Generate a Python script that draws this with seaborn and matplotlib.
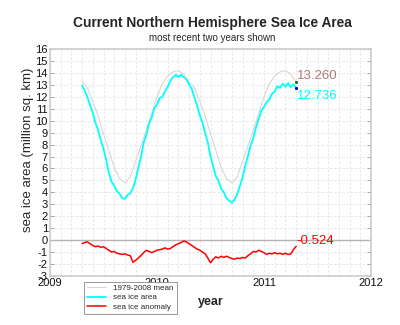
import numpy as np
import pandas as pd
import matplotlib
matplotlib.use("Agg")
import matplotlib.pyplot as plt
import seaborn as sns
from matplotlib.ticker import MultipleLocator

# ---- data ----
t_start = 2009.30
mean_step = 0.05
mean_vals = [13.26, 12.75, 11.6, 10.4, 8.9, 7.5, 6.1, 5.15, 4.78, 5.3,
             6.6, 7.9, 9.2, 10.6, 12.0, 13.1, 13.75, 14.1, 14.2, 13.9,
             13.26, 12.75, 11.6, 10.4, 8.9, 7.5, 6.1, 5.15, 4.78, 5.3,
             6.6, 7.9, 9.2, 10.6, 12.0, 13.1, 13.75, 14.1, 14.2, 13.9,
             13.26]
obs_step = 0.025
area_vals = [12.95, 12.5, 11.95, 11.3, 10.65, 9.8, 9.2, 8.35, 7.65, 6.7,
             5.65, 4.9, 4.55, 4.1, 3.9, 3.5, 3.45, 3.8, 3.9, 4.35,
             5.05, 6.05, 6.95, 8.15, 8.8, 9.75, 10.25, 11.05, 11.35, 11.9,
             12.0, 12.45, 12.85, 13.35, 13.65, 13.85, 13.65, 13.85, 13.65, 13.45,
             13.05, 12.65, 11.95, 11.25, 10.45, 9.85, 8.95, 8.15, 7.05, 6.15,
             5.35, 4.95, 4.3, 4.0, 3.5, 3.3, 3.12, 3.4, 3.85, 4.55,
             5.25, 6.25, 7.05, 7.95, 8.55, 9.45, 10.15, 10.85, 11.15, 11.55,
             11.8, 12.25, 12.45, 12.9, 12.75, 13.1, 12.85, 13.15, 12.8, 13.05,
             12.736]
anom_vals = [-0.3, -0.2, -0.15, -0.3, -0.45, -0.55, -0.5, -0.6, -0.55, -0.7,
             -0.85, -1.0, -0.95, -1.1, -1.15, -1.2, -1.15, -1.25, -1.3, -1.85,
             -1.7, -1.5, -1.3, -1.05, -0.85, -0.95, -1.05, -0.95, -0.85, -0.8,
             -0.75, -0.65, -0.75, -0.7, -0.55, -0.4, -0.3, -0.2, -0.08, -0.15,
             -0.3, -0.45, -0.6, -0.75, -0.85, -1.0, -1.15, -1.5, -1.9, -1.6,
             -1.4, -1.5, -1.35, -1.45, -1.35, -1.45, -1.55, -1.6, -1.5, -1.55,
             -1.45, -1.5, -1.3, -1.15, -0.95, -1.0, -0.85, -0.95, -1.05, -1.2,
             -1.1, -1.15, -1.05, -1.15, -1.1, -1.2, -1.1, -1.2, -1.15, -0.8,
             -0.524]
last_mean = "13.260"
last_area = "12.736"
last_anom = "-0.524"
x_ticks = [2009, 2010, 2011, 2012]
y_ticks = list(range(-3, 17))
legend_labels = ["1979-2008 mean", "sea ice area", "sea ice anomaly"]

mean_t = [round(t_start + i * mean_step, 3) for i in range(len(mean_vals))]
obs_t = [round(t_start + i * obs_step, 3) for i in range(len(area_vals))]
df_mean = pd.DataFrame({"year": mean_t, "value": mean_vals})
df_area = pd.DataFrame({"year": obs_t, "value": area_vals})
df_anom = pd.DataFrame({"year": obs_t, "value": anom_vals})

# ---- style ----
sns.set_style("white")
plt.rcParams["font.family"] = ["Liberation Sans", "DejaVu Sans"]

fig = plt.figure(figsize=(4.0, 3.25), dpi=100)
ax = fig.add_axes([0.125, 0.151, 0.8025, 0.698])

c_mean = "#dccfcf"
c_area = "#00ffff"
c_anom = "#ff0000"
c_meanlbl = "#a97a76"

ax.axhline(0, color="#b4b4b4", lw=1.0, zorder=1)
sns.lineplot(data=df_mean, x="year", y="value", ax=ax, color=c_mean, lw=0.7,
             label=legend_labels[0], zorder=3)
sns.lineplot(data=df_area, x="year", y="value", ax=ax, color=c_area, lw=1.3,
             label=legend_labels[1], zorder=4)
sns.lineplot(data=df_anom, x="year", y="value", ax=ax, color=c_anom, lw=1.1,
             label=legend_labels[2], zorder=4)

ax.plot([mean_t[-1]], [mean_vals[-1]], "o", color="#207020", ms=1.3, zorder=5)
ax.plot([obs_t[-1]], [area_vals[-1]], "o", color="#0000cc", ms=1.3, zorder=5)

ax.text(obs_t[-1] + 0.005, mean_vals[-1] + 0.5, last_mean, color=c_meanlbl,
        fontsize=9.5, va="center", ha="left")
ax.text(obs_t[-1] + 0.005, area_vals[-1] - 0.65, last_area, color=c_area,
        fontsize=9.5, va="center", ha="left")
ax.text(obs_t[-1] + 0.0, anom_vals[-1] + 0.42, last_anom, color=c_anom,
        fontsize=9.5, va="center", ha="left")

ax.set_xlim(2009, 2012)
ax.set_ylim(-3, 16)
ax.set_xticks(x_ticks)
ax.set_xticklabels([str(v) for v in x_ticks])
ax.set_yticks(y_ticks)
ax.set_yticklabels([str(v) for v in y_ticks])
ax.xaxis.set_minor_locator(MultipleLocator(0.1))
ax.grid(True, which="major", axis="y", color="#e4e4e4", ls=(0, (3, 2)), lw=0.6)
ax.grid(True, which="both", axis="x", color="#e4e4e4", ls=(0, (3, 2)), lw=0.6)
ax.tick_params(axis="both", which="major", labelsize=8, length=3, width=0.6,
               color="#999999", direction="in", pad=1.5, labelcolor="#111111")
ax.tick_params(axis="x", which="minor", length=0)
ax.tick_params(axis="y", right=True, left=True)
for s in ax.spines.values():
    s.set_color("#cccccc")
    s.set_linewidth(1.2)

ax.set_xlabel("year", fontsize=9, fontweight="bold", labelpad=6)
ax.set_ylabel("sea ice area (million sq. km)", fontsize=9.5, labelpad=4)
ax.yaxis.set_label_coords(-0.05, 0.555)

fig.text(0.53, 0.93, "Current Northern Hemisphere Sea Ice Area",
         fontsize=9.9, fontweight="bold", ha="center", va="center")
fig.text(0.53, 0.884, "most recent two years shown", fontsize=7.0,
         ha="center", va="center")

leg = ax.legend(loc="upper left", bbox_to_anchor=(0.21, 0.133),
                bbox_transform=fig.transFigure, fontsize=5.8, frameon=True,
                fancybox=False, edgecolor="#888888", framealpha=1,
                handlelength=2.4, handletextpad=0.9, labelspacing=0.2,
                borderpad=0.35, borderaxespad=0)
leg.get_frame().set_linewidth(0.6)
leg.set_zorder(10)

fig.savefig("out.png", dpi=100, facecolor="white")
